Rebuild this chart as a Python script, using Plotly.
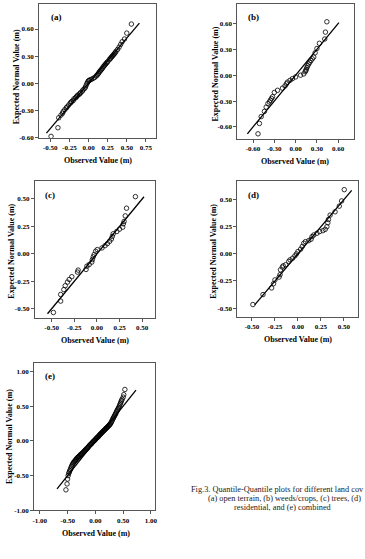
import plotly.graph_objects as go

# ---------------- data ----------------
a_x = [-0.49, -0.40, -0.39, -0.36, -0.34, -0.33, -0.31, -0.29, -0.28, -0.26,
       -0.24, -0.23, -0.22, -0.20, -0.19, -0.17, -0.16, -0.15, -0.14, -0.12,
       -0.11, -0.10, -0.08, -0.07, -0.05, -0.04, -0.03, -0.02, -0.01, 0.00,
       0.01, 0.02, 0.04, 0.06, 0.08, 0.10, 0.11, 0.12, 0.13, 0.14,
       0.15, 0.16, 0.17, 0.18, 0.19, 0.20, 0.21, 0.22, 0.23, 0.24,
       0.25, 0.27, 0.28, 0.29, 0.30, 0.31, 0.32, 0.33, 0.34, 0.35,
       0.36, 0.38, 0.40, 0.42, 0.44, 0.47, 0.50, 0.56]
a_y = [-0.585, -0.49, -0.38, -0.35, -0.33, -0.31, -0.29, -0.27, -0.26, -0.24,
       -0.22, -0.21, -0.20, -0.19, -0.17, -0.16, -0.15, -0.14, -0.13, -0.12,
       -0.11, -0.10, -0.085, -0.07, -0.055, -0.04, -0.02, 0.00, 0.015, 0.03,
       0.03, 0.04, 0.045, 0.055, 0.065, 0.08, 0.09, 0.10, 0.11, 0.125,
       0.135, 0.145, 0.155, 0.165, 0.18, 0.19, 0.20, 0.21, 0.22, 0.23,
       0.24, 0.26, 0.27, 0.28, 0.29, 0.30, 0.31, 0.32, 0.33, 0.34,
       0.355, 0.375, 0.40, 0.43, 0.46, 0.49, 0.555, 0.655]

b_x = [-0.53, -0.51, -0.485, -0.44, -0.415, -0.39, -0.37, -0.355, -0.34, -0.325,
       -0.30, -0.255, -0.185, -0.15, -0.13, -0.115, -0.08, -0.045, 0.00, 0.07,
       0.115, 0.135, 0.145, 0.15, 0.16, 0.17, 0.185, 0.20, 0.215, 0.235,
       0.255, 0.275, 0.30, 0.335, 0.41, 0.42, 0.44]
b_y = [-0.68, -0.56, -0.48, -0.42, -0.37, -0.33, -0.31, -0.29, -0.27, -0.25,
       -0.20, -0.175, -0.15, -0.125, -0.10, -0.08, -0.06, -0.04, -0.02, 0.00,
       0.015, 0.04, 0.055, 0.07, 0.09, 0.11, 0.13, 0.15, 0.17, 0.19,
       0.21, 0.26, 0.31, 0.37, 0.42, 0.50, 0.62]

c_x = [-0.48, -0.40, -0.40, -0.365, -0.35, -0.325, -0.305, -0.277, -0.214, -0.207,
       -0.12, -0.11, -0.085, -0.056, -0.05, -0.04, -0.03, -0.014, 0.004, 0.056,
       0.09, 0.116, 0.14, 0.16, 0.17, 0.18, 0.22, 0.25, 0.285, 0.292,
       0.30, 0.313, 0.327, 0.425]
c_y = [-0.534, -0.43, -0.37, -0.325, -0.29, -0.257, -0.233, -0.208, -0.166, -0.148,
       -0.142, -0.112, -0.097, -0.075, -0.052, -0.027, -0.006, 0.024, 0.039, 0.054,
       0.075, 0.093, 0.114, 0.135, 0.159, 0.183, 0.204, 0.225, 0.243, 0.274,
       0.295, 0.346, 0.416, 0.521]

d_x = [-0.49, -0.38, -0.286, -0.265, -0.25, -0.205, -0.195, -0.19, -0.17, -0.16,
       -0.134, -0.10, -0.086, -0.058, -0.033, -0.016, 0.0, 0.029, 0.047, 0.064,
       0.082, 0.117, 0.143, 0.154, 0.172, 0.207, 0.236, 0.272, 0.297, 0.315,
       0.325, 0.332, 0.35, 0.404, 0.45, 0.475, 0.504]
d_y = [-0.467, -0.375, -0.314, -0.275, -0.24, -0.214, -0.192, -0.147, -0.122, -0.11,
       -0.10, -0.07, -0.055, -0.04, -0.018, 0.0, 0.021, 0.043, 0.068, 0.098,
       0.113, 0.122, 0.135, 0.159, 0.174, 0.19, 0.205, 0.214, 0.226, 0.25,
       0.287, 0.317, 0.357, 0.388, 0.44, 0.488, 0.592]

e_x = [-0.53, -0.51, -0.50, -0.49, -0.48, -0.47, -0.46, -0.45, -0.44, -0.43,
       -0.42, -0.41, -0.40, -0.39, -0.38, -0.37, -0.36, -0.35, -0.34, -0.33,
       -0.32, -0.31, -0.30, -0.29, -0.28, -0.27, -0.26, -0.25, -0.24, -0.23,
       -0.22, -0.21, -0.20, -0.19, -0.18, -0.17, -0.16, -0.15, -0.14, -0.13,
       -0.12, -0.11, -0.10, -0.09, -0.08, -0.07, -0.06, -0.05, -0.04, -0.03,
       -0.02, -0.01, 0.00, 0.01, 0.02, 0.03, 0.04, 0.05, 0.06, 0.07,
       0.08, 0.09, 0.10, 0.11, 0.12, 0.13, 0.14, 0.15, 0.16, 0.17,
       0.18, 0.19, 0.20, 0.21, 0.22, 0.23, 0.24, 0.25, 0.26, 0.27,
       0.28, 0.29, 0.30, 0.31, 0.32, 0.33, 0.34, 0.35, 0.36, 0.37,
       0.38, 0.39, 0.40, 0.41, 0.42, 0.43, 0.44, 0.45, 0.46, 0.47,
       0.48, 0.50, 0.51, 0.53]
e_y = [-0.705, -0.62, -0.55, -0.50, -0.47, -0.45, -0.43, -0.41, -0.39, -0.37,
       -0.35, -0.335, -0.32, -0.31, -0.30, -0.29, -0.28, -0.27, -0.26, -0.25,
       -0.24, -0.235, -0.225, -0.22, -0.21, -0.20, -0.195, -0.19, -0.18, -0.175,
       -0.165, -0.155, -0.15, -0.14, -0.13, -0.125, -0.115, -0.105, -0.10, -0.09,
       -0.08, -0.07, -0.06, -0.055, -0.045, -0.04, -0.03, -0.02, -0.01, -0.005,
       0.005, 0.01, 0.02, 0.03, 0.04, 0.045, 0.055, 0.06, 0.07, 0.08,
       0.09, 0.095, 0.105, 0.115, 0.12, 0.13, 0.14, 0.145, 0.155, 0.16,
       0.17, 0.18, 0.185, 0.195, 0.20, 0.21, 0.22, 0.23, 0.235, 0.245,
       0.26, 0.275, 0.29, 0.31, 0.325, 0.34, 0.355, 0.37, 0.385, 0.40,
       0.42, 0.435, 0.45, 0.465, 0.48, 0.50, 0.52, 0.54, 0.56, 0.58,
       0.60, 0.63, 0.665, 0.74]

# reference lines (start, end) for each panel
a_line = [-0.55, 0.665]
b_line = [-0.68, 0.61]
c_line = [-0.545, 0.52]
d_line = [-0.47, 0.585]
e_line = [-0.69, 0.73]

ticks_a_x = [-0.50, -0.25, 0.00, 0.25, 0.50, 0.75]
ticks_a_y = [-0.60, -0.30, 0.00, 0.30, 0.60]
ticks_b = [-0.60, -0.30, 0.00, 0.30, 0.60]
ticks_cd = [-0.50, -0.25, 0.00, 0.25, 0.50]
ticks_e = [-1.00, -0.50, 0.00, 0.50, 1.00]

panel_labels = ["(a)", "(b)", "(c)", "(d)", "(e)"]
x_title = "Observed Value (m)"
y_title = "Expected Normal Value (m)"
caption = ["Fig.3. Quantile-Quantile plots for different land cov",
           "(a) open terrain, (b) weeds/crops, (c) trees, (d)",
           "residential, and (e) combined"]

# ---------------- layout geometry ----------------
W, H = 365, 559
SERIF = "Liberation Serif"

def px_dom_x(l, r):
    return [l / W, r / W]

def px_dom_y(t, b):
    return [1 - b / H, 1 - t / H]

panels = [
    (a_x, a_y, a_line, (37.7, 156.0), (3.7, 138.7), [-0.645, 0.88], [-0.60, 0.88], ticks_a_x, ticks_a_y),
    (b_x, b_y, b_line, (238.7, 356.7), (3.7, 140.0), [-0.82, 0.82], [-0.74, 0.83], ticks_b, ticks_b),
    (c_x, c_y, c_line, (33.3, 155.0), (182.7, 320.3), [-0.685, 0.64], [-0.584, 0.66], ticks_cd, ticks_cd),
    (d_x, d_y, d_line, (238.7, 361.0), (182.7, 319.3), [-0.658, 0.654], [-0.582, 0.668], ticks_cd, ticks_cd),
    (e_x, e_y, e_line, (32.7, 155.0), (365.7, 514.0), [-1.10, 1.07], [-1.00, 1.12], ticks_e, ticks_e),
]

fig = go.Figure()
layout = dict(
    width=W, height=H,
    margin=dict(l=0, r=0, t=0, b=0),
    paper_bgcolor="white", plot_bgcolor="white",
    showlegend=False,
)

tickfont = dict(family=SERIF, size=7, color="black", weight="bold")

for i, (px_, py_, ln, xd, yd, xr, yr, xt, yt) in enumerate(panels):
    n = "" if i == 0 else str(i + 1)
    xa, ya = "x" + n, "y" + n
    fig.add_trace(go.Scatter(x=ln, y=ln, mode="lines", xaxis=xa, yaxis=ya,
                             line=dict(color="black", width=1.3), hoverinfo="skip"))
    fig.add_trace(go.Scatter(x=px_, y=py_, mode="markers", xaxis=xa, yaxis=ya,
                             marker=dict(symbol="circle-open", size=4.5, color="black",
                                         line=dict(width=0.8, color="black"))))
    common = dict(showgrid=False, zeroline=False, showline=True, mirror=True,
                  linecolor="#555", linewidth=1, ticks="outside", ticklen=3,
                  tickwidth=1, tickcolor="#555", tickfont=tickfont, fixedrange=True)
    layout["xaxis" + n] = dict(domain=px_dom_x(*xd), range=xr, anchor=ya,
                               tickvals=xt, ticktext=["%.2f" % v for v in xt], **common)
    layout["yaxis" + n] = dict(domain=px_dom_y(*yd), range=yr, anchor=xa,
                               tickvals=yt, ticktext=["%.2f" % v for v in yt], **common)

fig.update_layout(**layout)

ann = []
label_pos = [(47.7, 17), (247.7, 17), (41.7, 196), (247.7, 196), (41.7, 379)]
for lab, (x, y) in zip(panel_labels, label_pos):
    ann.append(dict(text=lab, x=x / W, y=1 - y / H, xref="paper", yref="paper",
                    xanchor="left", yanchor="middle", showarrow=False,
                    font=dict(family=SERIF, size=9, color="black", weight="bold")))
xt_pos = [(97.7, 162), (297.3, 162.7), (94.3, 343.3), (300, 341.7), (95, 537.7)]
for x, y in xt_pos:
    ann.append(dict(text=x_title, x=x / W, y=1 - y / H, xref="paper", yref="paper",
                    xanchor="center", yanchor="middle", showarrow=False,
                    font=dict(family=SERIF, size=8, color="black", weight="bold")))
yt_pos = [(15, 77), (216, 75), (9.3, 253.3), (214.3, 253.3), (8.3, 440)]
for x, y in yt_pos:
    ann.append(dict(text=y_title, x=x / W, y=1 - y / H, xref="paper", yref="paper",
                    xanchor="center", yanchor="middle", showarrow=False, textangle=-90,
                    font=dict(family=SERIF, size=8, color="black", weight="bold")))
cap_pos = [(189.3, 492.7, "left"), (206.7, 501.8, "left"), (284.5, 511.5, "center")]
for txt, (x, y, anc) in zip(caption, cap_pos):
    ann.append(dict(text=txt, x=x / W, y=1 - y / H, xref="paper", yref="paper",
                    xanchor=anc, yanchor="middle", showarrow=False,
                    font=dict(family=SERIF, size=8.3, color="#222")))

fig.update_layout(annotations=ann)
fig.write_html("out.html")
